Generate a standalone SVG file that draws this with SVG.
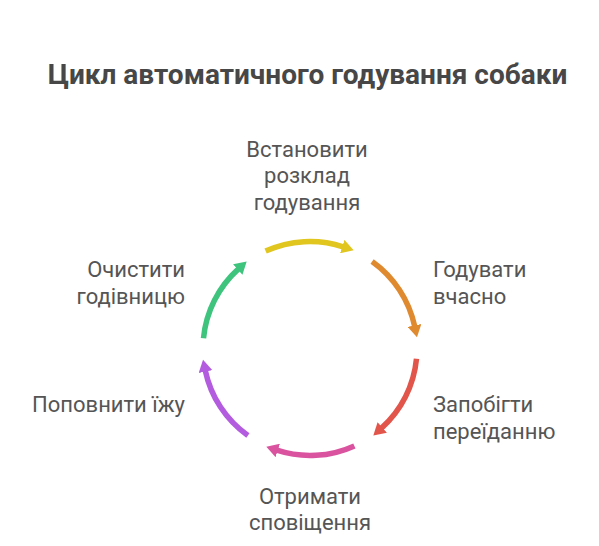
<svg xmlns="http://www.w3.org/2000/svg" width="599" height="546" viewBox="0 0 599 546">
<style>
.t{font-family:Roboto,"Liberation Sans",sans-serif;font-size:22px;fill:#555555}
.title{font-family:Roboto,"Liberation Sans",sans-serif;font-size:28px;font-weight:bold;fill:#474747}
.arc{fill:none;stroke-width:5.5;stroke-linecap:butt}
</style>
<defs>
<marker id="mY" markerUnits="userSpaceOnUse" markerWidth="13" markerHeight="14" refX="1" refY="7" orient="auto"><path d="M0,0 L12,7 L0,14 z" fill="#E0C61E"/></marker>
<marker id="mO" markerUnits="userSpaceOnUse" markerWidth="13" markerHeight="14" refX="1" refY="7" orient="auto"><path d="M0,0 L12,7 L0,14 z" fill="#E08A30"/></marker>
<marker id="mR" markerUnits="userSpaceOnUse" markerWidth="13" markerHeight="14" refX="1" refY="7" orient="auto"><path d="M0,0 L12,7 L0,14 z" fill="#E2554B"/></marker>
<marker id="mP" markerUnits="userSpaceOnUse" markerWidth="13" markerHeight="14" refX="1" refY="7" orient="auto"><path d="M0,0 L12,7 L0,14 z" fill="#D9539F"/></marker>
<marker id="mV" markerUnits="userSpaceOnUse" markerWidth="13" markerHeight="14" refX="1" refY="7" orient="auto"><path d="M0,0 L12,7 L0,14 z" fill="#B35CE0"/></marker>
<marker id="mG" markerUnits="userSpaceOnUse" markerWidth="13" markerHeight="14" refX="1" refY="7" orient="auto"><path d="M0,0 L12,7 L0,14 z" fill="#3EC47D"/></marker>
</defs>
<rect width="599" height="546" fill="#ffffff"/>
<text class="title" x="307.5" y="84" text-anchor="middle">Цикл автоматичного годування собаки</text>
<g id="connectors">
<path class="arc" stroke="#E0C61E" marker-end="url(#mY)" d="M265.6,251.1 A107,107 0 0 1 343.2,246.8"/>
<path class="arc" stroke="#E08A30" marker-end="url(#mO)" d="M372.1,261.4 A107,107 0 0 1 414.7,326.4"/>
<path class="arc" stroke="#E2554B" marker-end="url(#mR)" d="M416.5,358.8 A107,107 0 0 1 381.5,428.1"/>
<path class="arc" stroke="#D9539F" marker-end="url(#mP)" d="M354.4,445.9 A107,107 0 0 1 276.8,450.2"/>
<path class="arc" stroke="#B35CE0" marker-end="url(#mV)" d="M247.9,435.6 A107,107 0 0 1 205.3,370.6"/>
<path class="arc" stroke="#3EC47D" marker-end="url(#mG)" d="M203.5,338.3 A107,107 0 0 1 238.5,268.9"/>
</g>
<g id="node-schedule"><text class="t" x="307" y="156.7" text-anchor="middle">Встановити</text><text class="t" x="307" y="183.2" text-anchor="middle">розклад</text><text class="t" x="307" y="209.7" text-anchor="middle">годування</text></g>
<g id="node-feed"><text class="t" x="433" y="277">Годувати</text><text class="t" x="433" y="303.5">вчасно</text></g>
<g id="node-prevent"><text class="t" x="433" y="412">Запобігти</text><text class="t" x="433" y="438.5">переїданню</text></g>
<g id="node-notify"><text class="t" x="310" y="503.5" text-anchor="middle">Отримати</text><text class="t" x="310" y="530" text-anchor="middle">сповіщення</text></g>
<g id="node-refill"><text class="t" x="185" y="412" text-anchor="end">Поповнити їжу</text></g>
<g id="node-clean"><text class="t" x="185" y="277" text-anchor="end">Очистити</text><text class="t" x="185" y="303.5" text-anchor="end">годівницю</text></g>
</svg>
